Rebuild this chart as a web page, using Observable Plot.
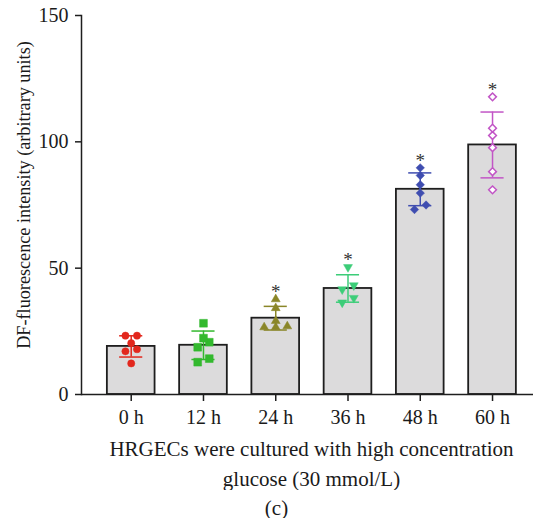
<!DOCTYPE html>
<html>
<head>
<meta charset="utf-8">
<script src="https://cdn.jsdelivr.net/npm/d3@7"></script>
<script src="https://cdn.jsdelivr.net/npm/@observablehq/plot@0.6"></script>
<style>
  body { margin: 0; background: #fff; }
  #chart svg { display: block; }
  #caption { font-family: "Liberation Serif", serif; font-size: 21px; line-height: 20px; color: #1a1a1a; text-align: center; padding-left: 20px; margin-top: 8px; width: 513px; }
</style>
</head>
<body>
<div id="chart"></div>
<div id="caption">(c)</div>
<script>
// ---- data ----
const times = ["0 h", "12 h", "24 h", "36 h", "48 h", "60 h"];
const v0h  = [23.3, 23.3, 20.3, 17.9, 17.1, 12.3];
const v12h = [28.2, 22.3, 20.7, 18.7, 14.2, 12.8];
const v24h = [37.7, 34.2, 29.1, 27.0, 26.6, 26.6];
const v36h = [50.4, 43.2, 41.6, 38.2, 36.4];
const v48h = [89.7, 86.7, 83.0, 79.7, 75.0, 73.2];
const v60h = [117.8, 105.4, 102.5, 97.7, 88.2, 81.0];
const significant = [false, false, true, true, true, true];
const yTicks = [0, 50, 100, 150];
const yLabel = "DF-fluorescence intensity (arbitrary units)";
const xLabel = "HRGECs were cultured with high concentration\nglucose (30 mmol/L)";

// ---- marker styles ----
const markers = [
  {symbol: "circle",   color: "#e2271d", r: 3.6, rotate: 0,   open: false},
  {symbol: "square",   color: "#33b92e", r: 4.4, rotate: 0,   open: false},
  {symbol: "triangle", color: "#8a8628", r: 3.3, rotate: 0,   open: false},
  {symbol: "triangle", color: "#3ccd78", r: 3.3, rotate: 180, open: false},
  {symbol: "diamond2", color: "#3f4db0", r: 3.8, rotate: 0,   open: false},
  {symbol: "diamond2", color: "#c255c6", r: 3.5, rotate: 0,   open: true}
];

const groups = [v0h, v12h, v24h, v36h, v48h, v60h];

// summary statistics (mean ± SD)
const stats = groups.map((vals, i) => ({
  i, time: times[i],
  mean: d3.mean(vals),
  sd: d3.deviation(vals),
  max: d3.max(vals),
  sig: significant[i],
  color: markers[i].color
}));

// Prism-like scatter spreading: points with close values share a row
const spread = 0.16, rowThreshold = 2.3;
const points = groups.flatMap((vals, i) => {
  const sorted = vals.slice().sort((a, b) => a - b);
  const rows = [];
  for (const v of sorted) {
    const row = rows[rows.length - 1];
    if (row && v - row[0] <= rowThreshold) row.push(v); else rows.push([v]);
  }
  return rows.flatMap(row => row.map((v, j) => ({g: i, v, x: i + (j - (row.length - 1) / 2) * spread})));
});

const caps = stats.flatMap(d => [{i: d.i, y: d.mean - d.sd, color: d.color}, {i: d.i, y: d.mean + d.sd, color: d.color}]);
const halfBar = 0.33, halfCap = 0.16;

const dotMarks = markers.map((m, i) => Plot.dot(points.filter(p => p.g === i), {
  x: "x", y: "v", symbol: m.symbol, r: m.r, rotate: m.rotate,
  fill: m.open ? "white" : m.color,
  stroke: m.color, strokeWidth: m.open ? 1.5 : 0.5
}));

const chart = Plot.plot({
  width: 533, height: 490,
  marginLeft: 81, marginRight: 0, marginTop: 15, marginBottom: 96,
  style: {fontFamily: "Liberation Serif, serif", fontSize: "20px", color: "#1a1a1a", background: "white"},
  x: {type: "linear", domain: [-0.688, 5.567], axis: null},
  y: {domain: [0, 150], axis: null},
  marks: [
    Plot.rectY(stats, {x1: d => d.i - halfBar, x2: d => d.i + halfBar, y: "mean", fill: "#dcdbdc", stroke: "#1e1e1e", strokeWidth: 1.8}),
    Plot.ruleX(stats, {x: "i", y1: d => d.mean - d.sd, y2: d => d.mean + d.sd, stroke: "color", strokeWidth: 1.5}),
    Plot.ruleY(caps, {y: "y", x1: d => d.i - halfCap, x2: d => d.i + halfCap, stroke: "color", strokeWidth: 1.5}),
    ...dotMarks,
    Plot.text(stats.filter(d => d.sig), {x: "i", y: "max", text: () => "*", fontSize: 19, fill: "#333", dy: -7}),
    Plot.ruleY([0], {stroke: "#1e1e1e", strokeWidth: 1.5}),
    Plot.frame({anchor: "left", stroke: "#1e1e1e", strokeWidth: 1.5}),
    Plot.axisX({ticks: d3.range(times.length), tickFormat: i => times[i], tickSize: 7, tickPadding: 8, label: null, stroke: "#1e1e1e", strokeWidth: 1.5}),
    Plot.axisY({ticks: yTicks, tickSize: 6, tickPadding: 7, label: null, stroke: "#1e1e1e", strokeWidth: 1.5}),
    Plot.text([yLabel], {frameAnchor: "left", textAnchor: "middle", lineAnchor: "middle", rotate: -90, dx: -57, dy: -10, fontSize: 18.2, fill: "#1a1a1a"}),
    Plot.text([xLabel], {frameAnchor: "bottom", textAnchor: "middle", lineAnchor: "top", dy: 40.5, dx: 4, lineHeight: 1.43, fontSize: 21, fill: "#1a1a1a"})
  ]
});
document.getElementById("chart").append(chart);
</script>
</body>
</html>
